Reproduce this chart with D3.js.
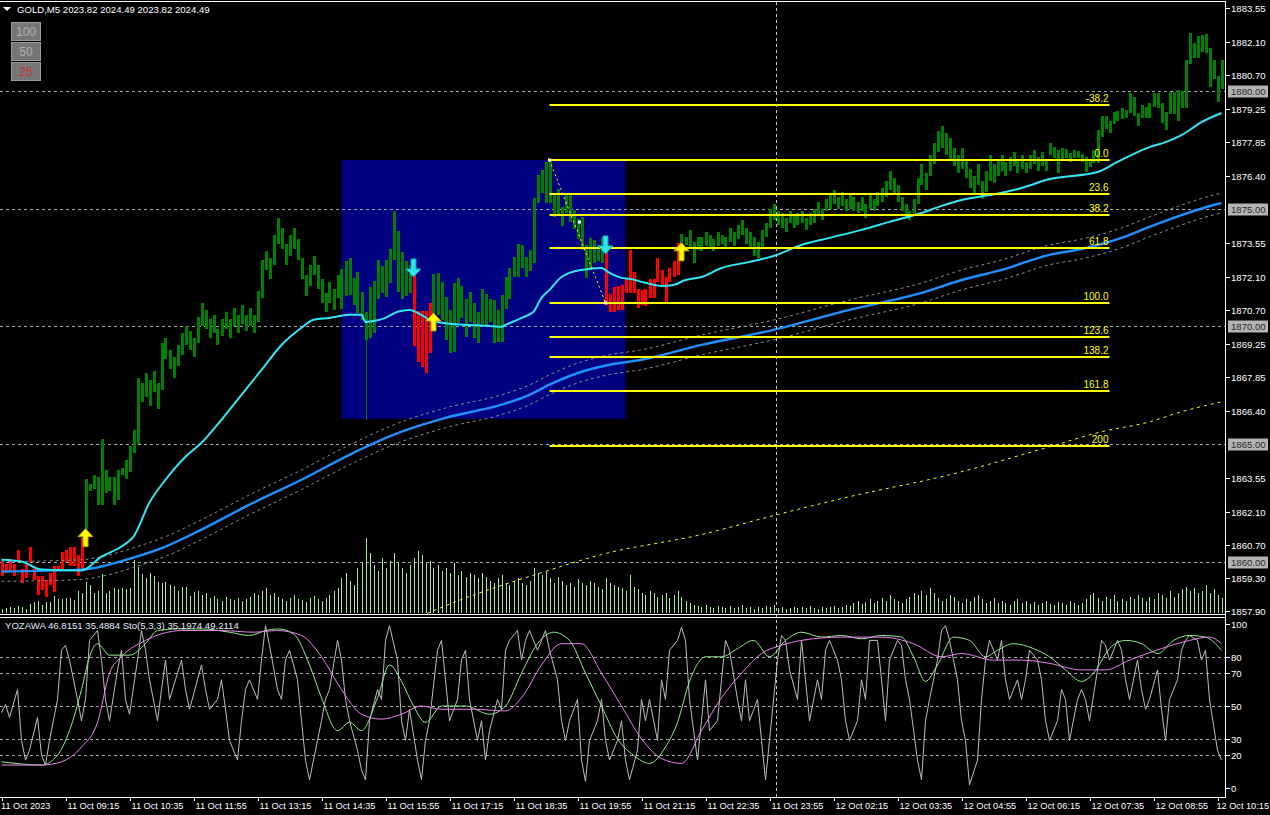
<!DOCTYPE html>
<html><head><meta charset="utf-8">
<script src="https://cdn.jsdelivr.net/npm/d3@7"></script>
<style>html,body{margin:0;padding:0;background:#000;overflow:hidden}svg{display:block}</style>
</head><body>
<svg id="c" width="1270" height="815"></svg>
<script>
// ---------- DATA ----------
const bodyHi = [
1860.0,1859.9,1860.1,1859.9,1860.5,1859.7,1859.9,1860.6,1859.7,1859.4,
1859.4,1859.2,1859.5,1859.8,1859.8,1860.4,1860.5,1860.6,1860.6,1860.3,
1861.0,1863.5,1863.3,1863.7,1863.6,1865.2,1863.9,1863.6,1863.6,1863.9,
1864.0,1864.3,1864.9,1865.6,1867.8,1867.6,1868.0,1867.7,1868.1,1867.6,
1869.3,1869.5,1869.0,1868.7,1869.2,1869.7,1870.0,1869.8,1869.5,1870.4,
1871.0,1870.7,1870.3,1870.5,1869.9,1870.3,1870.6,1870.3,1870.8,1870.5,
1870.9,1870.5,1870.8,1870.5,1871.5,1872.8,1873.2,1872.9,1873.9,1874.6,
1874.2,1873.5,1873.9,1874.2,1873.7,1872.9,1872.2,1872.6,1873.0,1872.6,
1872.0,1871.4,1871.9,1871.6,1872.2,
1872.44,1872.78,1872.91,1872.06,1872.31,1871.46,1870.62,1871.68,1871.93,1872.82,
1872.57,1872.82,1873.29,1874.90,1874.06,1873.16,1872.78,1872.60,1872.23,1870.66,
1870.66,1870.66,1871.00,1872.23,1872.27,1871.89,1871.25,1870.70,1871.85,1872.06,
1871.72,1871.17,1871.46,1871.00,1870.62,1871.59,1871.38,1871.17,1871.13,1870.70,
1871.34,1872.10,1872.48,1872.95,1873.50,1873.46,1872.95,1873.25,1875.46,1876.43,
1876.65,1876.99,1877.07,1875.67,1875.84,1875.07,1875.58,1875.67,1874.95,1874.56,
1874.65,1873.46,1873.76,1873.67,1873.46,1873.76,1873.25,1871.38,1871.68,1871.72,
1871.76,1872.02,1873.25,1872.31,1871.59,1871.55,1871.59,1872.02,1872.02,1872.91,
1872.40,1872.10,1872.48,1872.78,1873.55,1873.93,1873.80,1874.10,1873.59,1873.80,
1873.8,1874.0,1873.9,1873.7,1874.0,1873.9,1873.8,1874.2,1874.0,1874.3,
1874.5,1874.2,1874.0,1873.8,1873.6,1874.1,1874.4,1875.0,1875.2,1874.9,
1874.8,1874.6,1874.9,1874.7,1874.8,1874.9,1874.6,1874.8,1875.0,1875.3,
1875.0,1875.4,1875.6,1875.8,1875.5,1875.7,1875.4,1875.6,1875.5,1875.3,
1875.5,1875.2,1875.6,1875.4,1875.7,1875.9,1876.2,1876.6,1876.3,1876.0,
1875.5,1875.2,1874.9,1875.4,1876.3,1876.9,1876.5,1877.3,1877.8,1878.3,
1878.5,1878.2,1878.0,1877.6,1877.3,1877.6,1877.1,1876.7,1876.4,1876.9,
1876.2,1876.6,1877.3,1876.9,1877.1,1877.3,1877.0,1877.2,1877.4,1877.1,
1877.3,1877.0,1877.3,1877.5,1877.2,1877.4,1877.1,
1877.79,1877.62,1877.49,1877.58,1877.54,1877.37,1877.49,1877.45,1877.32,1877.20,1877.07,1877.49,
1878.34,1878.94,1878.94,1878.73,1879.11,1879.15,1879.28,1879.19,1879.92,1879.75,
1879.07,1879.41,1879.32,1879.49,1879.92,1879.92,1879.49,1879.11,1879.96,1879.96,
1880.04,1880.00,1881.32,1882.46,1882.04,1882.34,1882.38,1882.42,1881.83,1881.32,1880.64,1881.32
];
const bodyLo = [
1859.4,1859.5,1859.6,1859.4,1860.0,1859.1,1859.3,1860.0,1859.2,1858.6,
1858.8,1858.5,1859.0,1858.7,1859.6,1859.7,1860.0,1859.8,1859.8,1859.4,
1859.7,1861.4,1863.0,1863.1,1862.4,1862.4,1862.9,1863.0,1862.4,1862.6,
1863.7,1863.5,1863.8,1864.6,1865.0,1866.8,1867.0,1866.6,1867.2,1866.5,
1867.3,1868.6,1868.2,1867.8,1868.3,1868.8,1869.2,1869.0,1868.7,1869.3,
1870.0,1869.9,1869.5,1869.7,1869.2,1869.6,1869.9,1869.5,1870.0,1869.7,
1870.1,1869.8,1870.0,1869.7,1870.2,1871.2,1872.4,1872.0,1872.6,1873.5,
1873.3,1872.6,1873.0,1873.3,1872.8,1872.0,1871.3,1871.7,1872.2,1871.6,
1871.0,1870.6,1871.0,1870.7,1871.2,
1870.74,1871.30,1871.34,1870.91,1870.57,1870.28,1869.43,1869.51,1869.72,1871.17,
1871.42,1871.25,1871.85,1872.82,1871.46,1871.17,1871.30,1871.40,1869.17,1868.49,
1868.28,1868.03,1868.87,1870.28,1870.49,1870.28,1869.43,1868.87,1868.92,1870.15,
1870.36,1869.55,1870.19,1869.51,1869.30,1870.11,1870.06,1870.19,1869.30,1869.34,
1869.34,1870.74,1871.17,1872.10,1872.10,1872.48,1872.10,1872.36,1872.70,1875.24,
1875.67,1875.24,1875.24,1874.65,1874.73,1874.27,1874.82,1874.44,1874.14,1873.72,
1873.25,1872.06,1872.40,1872.70,1872.78,1872.70,1870.91,1870.62,1870.62,1870.70,
1870.70,1871.42,1871.42,1871.42,1870.79,1870.91,1870.87,1871.21,1871.21,1871.89,
1871.72,1871.00,1871.89,1872.10,1872.19,1873.25,1873.46,1873.38,1872.70,1873.25,
1873.2,1873.4,1873.3,1873.2,1873.4,1873.5,1873.3,1873.6,1873.4,1873.7,
1873.9,1873.5,1873.3,1873.0,1872.9,1873.3,1873.8,1874.2,1874.5,1874.3,
1874.2,1874.0,1874.4,1874.2,1874.3,1874.4,1874.1,1874.3,1874.4,1874.7,
1874.5,1874.9,1875.0,1875.2,1875.0,1875.1,1874.9,1875.0,1874.9,1874.8,
1874.9,1874.6,1875.0,1874.9,1875.1,1875.3,1875.5,1875.8,1875.6,1875.3,
1874.9,1874.6,1874.5,1874.7,1875.2,1876.0,1875.8,1876.4,1876.9,1877.4,
1877.6,1877.3,1877.1,1876.8,1876.5,1876.7,1876.3,1875.9,1875.6,1876.0,
1875.4,1875.7,1876.2,1876.1,1876.4,1876.6,1876.4,1876.6,1876.8,1876.5,
1876.7,1876.5,1876.7,1876.9,1876.6,1876.8,1876.6,
1877.28,1877.15,1876.52,1877.07,1877.15,1876.99,1877.15,1877.15,1876.99,1876.56,1876.77,1876.94,
1876.94,1878.05,1878.39,1878.22,1878.60,1878.73,1878.81,1878.85,1879.07,1878.94,
1878.51,1878.85,1878.85,1878.85,1879.32,1879.28,1878.64,1878.34,1879.02,1879.02,
1878.73,1879.28,1879.28,1881.15,1881.40,1881.40,1881.66,1881.61,1880.17,1880.51,1879.53,1880.08
];
const bearRanges = [[0,20],[103,107],[151,169]];
const extraWicks = [[91,1866.03]];
const volumes = [
4,5,6,5,7,6,4,9,11,12,8,11,11,17,14,14,15,15,13,22,20,31,28,20,22,39,20,22,25,24,25,24,25,53,46,39,35,40,37,31,30,31,28,27,22,26,26,17,21,22,
18,20,15,17,14,12,16,14,13,15,12,14,16,20,18,22,25,18,20,16,
14,12,15,18,14,13,11,15,17,14,12,15,18,22,25,35,40,32,28,45,
50,75,60,48,42,55,45,52,60,50,45,40,48,55,62,58,50,52,45,48,
42,45,40,50,38,42,36,40,38,35,40,36,32,30,35,38,30,28,32,35,
30,28,32,45,40,38,42,35,30,36,32,28,30,26,34,30,28,32,30,26,
24,35,30,28,26,25,22,38,26,24,20,18,22,20,16,18,20,15,18,22,
16,12,10,8,7,6,8,6,5,7,6,5,7,5,6,8,5,6,4,6,
5,7,6,8,5,6,4,5,6,5,6,5,7,5,4,6,5,6,7,5,
6,8,7,10,12,9,11,14,10,12,15,12,18,14,12,10,14,16,20,18,
22,18,25,20,15,12,14,18,16,12,10,14,12,16,18,14,10,12,15,10,
12,10,8,12,14,10,12,9,11,8,10,12,9,8,11,10,8,12,10,8,
10,14,18,20,15,12,16,14,18,12,14,12,16,14,18,15,12,16,14,20,
18,15,22,16,20,24,26,22,25,20,22,28,20,24,18,15
];
const fastMA = [[0,1860.08],[5,1860.0],[10,1859.66],[20,1859.62],[25,1860.21],[30,1860.64],[33,1861.06],[37,1862.51],[41,1863.48],[46,1864.46],[50,1865.05],[55,1866.03],[60,1867.09],[65,1868.15],[70,1869.21],[75,1869.94],[78,1870.28],[82,1870.36],[87,1870.49],[90,1870.49],[91,1870.19],[93,1870.23],[96,1870.36],[99,1870.62],[102,1870.70],[105,1870.49],[107,1870.28],[112,1870.11],[117,1870.06],[122,1870.02],[125,1869.98],[126,1870.06],[130,1870.36],[133,1870.62],[135,1871.21],[137,1871.55],[140,1872.10],[145,1872.40],[150,1872.48],[152,1872.27],[155,1872.06],[157,1872.02],[161,1871.85],[165,1871.72],[168,1871.76],[171,1871.97],[175,1872.10],[180,1872.48],[187,1872.74],[193,1872.99],[200,1873.46],[207,1873.76],[215,1874.10],[222,1874.44],[230,1874.82],[235,1875.12],[240,1875.37],[247,1875.58],[255,1875.88],[262,1876.26],[274,1876.56],[279,1876.99],[287,1877.62],[291,1877.83],[295,1878.13],[300,1878.68],[305,1879.07]];
const midMA = [[0,1859.58],[20,1859.66],[25,1859.79],[33,1860.17],[41,1860.64],[50,1861.36],[62,1862.42],[75,1863.48],[87,1864.54],[100,1865.52],[111,1866.11],[125,1866.67],[132,1867.09],[137,1867.52],[145,1868.07],[152,1868.37],[160,1868.58],[175,1869.21],[193,1869.85],[212,1870.70],[230,1871.42],[240,1871.97],[250,1872.40],[262,1873.04],[270,1873.29],[280,1873.76],[287,1874.23],[295,1874.73],[303,1875.16],[305,1875.24]];
const envelopePct = 0.0225;
const slowMA = [[100,1857.32],[115,1858.39],[135,1859.53],[150,1860.30],[175,1861.15],[194,1862.0],[212,1862.76],[237,1863.69],[262,1864.88],[275,1865.52],[287,1865.94],[295,1866.37],[305,1866.79]];
const upArrows = [[21,1861.40],[108,1870.57],[170,1873.55]];
const downArrows = [[103,1872.10],[151,1873.08]];
const fibStart = 137, fibEnd = 277, fibHigh = 1877.07, fibLow = 1871.0, fibLowBar = 151;
const fibLevels = [-38.2,0,23.6,38.2,61.8,100,123.6,138.2,161.8,200];
const fibLabels = ["-38.2","0.0","23.6","38.2","61.8","100.0","123.6","138.2","161.8","200"];
const boxStart = 85, boxEnd = 156, boxTop = 1877.07, boxBottom = 1866.07;
const separatorBar = 193.5;
const roundLevels = [1880.00,1875.00,1870.00,1865.00,1860.00];
const priceTicks = [1883.55,1882.10,1880.70,1879.25,1877.85,1876.40,1873.55,1872.10,1870.70,1869.25,1867.85,1866.40,1863.55,1862.10,1860.70,1859.30,1857.90];
const timeTickBars = [0,16,32,48,64,80,96,112,128,144,160,176,192,208,224,240,256,272,288,304];
const timeLabels = ["11 Oct 2023","11 Oct 09:15","11 Oct 10:35","11 Oct 11:55","11 Oct 13:15","11 Oct 14:35","11 Oct 15:55","11 Oct 17:15","11 Oct 18:35","11 Oct 19:55","11 Oct 21:15","11 Oct 22:35","11 Oct 23:55","12 Oct 02:15","12 Oct 03:35","12 Oct 04:55","12 Oct 06:15","12 Oct 07:35","12 Oct 08:55","12 Oct 10:15"];
const oscTicks = [100,80,70,50,30,20,0];
const oscLevels = [80,70,50,30,20];
const stoRaw = [[0,46],[1,51],[2,43],[4,60],[5,29],[6,17],[7,23],[9,43],[10,20],[11,14],[12,29],[14,54],[15,84],[16,87],[17,78],[19,54],[20,41],[21,54],[22,90],[24,96],[25,78],[26,54],[27,41],[29,72],[30,84],[31,54],[32,45],[34,78],[35,96],[36,84],[37,66],[39,41],[40,60],[41,78],[42,54],[45,78],[46,60],[47,48],[49,66],[50,75],[51,60],[52,48],[54,54],[55,66],[56,48],[57,29],[59,17],[60,41],[61,60],[62,66],[64,54],[65,78],[66,99],[67,87],[69,60],[70,54],[71,78],[72,84],[74,66],[75,41],[76,17],[77,5],[79,29],[80,41],[81,54],[82,60],[84,90],[85,78],[86,54],[87,41],[89,23],[90,11],[91,5],[92,41],[94,60],[95,54],[96,90],[97,99],[99,78],[100,41],[101,29],[102,48],[104,17],[105,5],[106,29],[107,41],[109,84],[110,90],[111,66],[112,41],[114,54],[115,78],[116,84],[117,54],[119,29],[120,41],[121,17],[122,35],[124,54],[125,48],[126,84],[127,90],[129,96],[130,78],[131,90],[132,96],[134,84],[135,90],[136,96],[137,84],[139,66],[140,41],[141,29],[142,41],[144,54],[145,17],[146,4],[147,29],[149,41],[150,54],[151,29],[152,17],[154,29],[155,41],[156,17],[157,5],[159,23],[160,54],[161,41],[162,54],[164,29],[165,66],[166,54],[167,84],[169,90],[170,98],[171,90],[172,54],[174,17],[175,41],[176,66],[177,35],[179,41],[180,66],[181,90],[182,84],[184,54],[185,41],[186,66],[187,41],[189,54],[190,29],[191,5],[192,29],[194,78],[195,93],[196,90],[197,72],[199,54],[200,90],[201,66],[202,41],[204,66],[205,54],[206,84],[207,90],[209,78],[210,66],[211,41],[212,29],[214,41],[215,66],[216,54],[217,90],[219,90],[220,66],[221,41],[222,78],[224,90],[225,87],[226,66],[227,54],[229,17],[230,5],[231,41],[232,54],[234,78],[235,96],[236,99],[237,90],[239,66],[240,41],[241,29],[242,2],[244,17],[245,54],[246,78],[247,90],[249,78],[250,90],[251,66],[252,54],[254,66],[255,54],[256,66],[257,84],[259,78],[260,66],[261,41],[262,29],[264,41],[265,60],[266,54],[267,29],[269,54],[270,60],[271,54],[272,41],[274,72],[275,90],[276,87],[277,78],[279,90],[280,84],[281,66],[282,54],[284,78],[285,60],[286,48],[287,54],[289,72],[290,48],[291,29],[292,54],[294,66],[295,84],[296,90],[297,93],[299,90],[300,78],[301,84],[302,54],[304,23],[305,17]];
const stoMain = [[0,16],[10,14],[14,20],[17,35],[20,60],[22,80],[24,88],[27,81],[32,81],[36,88],[39,96],[44,97],[50,97],[57,95],[62,93],[66,96],[69,97],[73,94],[77,75],[80,55],[84,35],[87,40],[90,35],[94,55],[97,75],[100,65],[103,50],[106,40],[110,50],[116,50],[122,45],[126,50],[130,70],[134,88],[138,95],[142,90],[146,70],[150,50],[154,30],[158,20],[162,15],[166,25],[169,40],[172,65],[176,80],[180,80],[184,85],[188,90],[192,80],[196,90],[200,95],[205,92],[210,93],[215,91],[220,93],[225,92],[228,80],[231,65],[234,75],[238,92],[242,90],[246,80],[249,84],[253,88],[258,85],[262,80],[266,72],[270,65],[273,70],[277,85],[281,90],[285,88],[289,82],[293,90],[297,93],[301,92],[305,84]];
const stoSignal = [[0,14],[10,14],[15,16],[20,25],[24,40],[27,70],[30,80],[36,90],[40,94],[45,96],[55,96],[63,95],[69,96],[75,93],[80,80],[85,60],[90,45],[95,42],[100,45],[105,50],[110,48],[118,48],[126,47],[130,55],[135,75],[140,88],[145,88],[150,70],[155,50],[160,30],[165,18],[170,15],[175,35],[180,55],[185,70],[190,82],[195,87],[200,90],[210,92],[220,92],[228,88],[235,80],[240,82],[248,78],[255,78],[262,76],[270,72],[276,72],[282,78],[290,85],[297,90],[302,92],[305,88]];
const headerText = "GOLD,M5  2023.82 2024.49 2023.82 2024.49";
const oscHeader = "YOZAWA 46.8151 35.4884  Sto(5,3,3) 35.1974 49.2114";
const buttonLabels = ["100","50","25"];

// ---------- DRAW ----------
const svg = d3.select('#c');
const FONT = "'Liberation Sans', Arial, sans-serif";
const FS = '9.6px';
const x = d3.scaleLinear().domain([0,305]).range([1.5,1221.5]);
const y = d3.scaleLinear().domain([1857.90,1883.55]).range([611,7.6]);
const yv = d3.scaleLinear().domain([0,100]).range([613,513]);
const yo = d3.scaleLinear().domain([0,100]).range([788,624]);
const AX = 1225.5;

svg.append('rect').attr('width',1270).attr('height',815).attr('fill','#000');
const defs = svg.append('defs');
defs.append('clipPath').attr('id','mainClip').append('rect').attr('x',0).attr('y',2).attr('width',1225).attr('height',612);
defs.append('clipPath').attr('id','oscClip').append('rect').attr('x',0).attr('y',618).attr('width',1225).attr('height',179);

const main = svg.append('g').attr('clip-path','url(#mainClip)');
const osc = svg.append('g').attr('clip-path','url(#oscClip)');

main.append('rect').attr('x',x(boxStart)).attr('y',y(boxTop)).attr('width',x(boxEnd)-x(boxStart)).attr('height',y(boxBottom)-y(boxTop)).attr('fill','#000080');

main.selectAll('line.lvl').data(roundLevels).enter().append('line')
  .attr('x1',0).attr('x2',1225).attr('y1',d=>Math.round(y(d))+0.5).attr('y2',d=>Math.round(y(d))+0.5)
  .attr('stroke','#a8a8a8').attr('stroke-dasharray','3,3').attr('stroke-width',1);

main.selectAll('line.vol').data(volumes).enter().append('line')
  .attr('x1',(d,i)=>Math.round(x(i))+0.5).attr('x2',(d,i)=>Math.round(x(i))+0.5)
  .attr('y1',yv(0)).attr('y2',d=>yv(d)).attr('stroke','#a6e8a0').attr('stroke-width',1);

const isBear = i => bearRanges.some(r=>i>=r[0]&&i<=r[1]);
extraWicks.forEach(w=>{
  const i=w[0];
  main.append('line').attr('x1',Math.round(x(i))+0.5).attr('x2',Math.round(x(i))+0.5)
   .attr('y1',y(bodyLo[i])).attr('y2',y(w[1])).attr('stroke',isBear(i)?'#ff0000':'#008000').attr('stroke-width',1);
});
main.selectAll('rect.c').data(bodyHi).enter().append('rect')
  .attr('x',(d,i)=>Math.round(x(i))-1).attr('width',3)
  .attr('y',(d,i)=>y(d)).attr('height',(d,i)=>Math.max(1,y(bodyLo[i])-y(d)))
  .attr('fill',(d,i)=>isBear(i)?'#ff0000':'#008000').attr('shape-rendering','crispEdges');

const ln = d3.line().x(d=>x(d[0])).y(d=>y(d[1])).curve(d3.curveMonotoneX);
main.append('path').attr('d',ln(slowMA)).attr('fill','none').attr('stroke','#ffff00').attr('stroke-width',1).attr('stroke-dasharray','3,4');
[1,-1].forEach(s=>{
  main.append('path').attr('d',ln(midMA.map(d=>[d[0],d[1]*(1+s*envelopePct/100)]))).attr('fill','none')
   .attr('stroke','#8a8a8a').attr('stroke-width',1).attr('stroke-dasharray','3,3');
});
main.append('path').attr('d',ln(midMA)).attr('fill','none').attr('stroke','#1e90ff').attr('stroke-width',2.4);
main.append('path').attr('d',ln(fastMA)).attr('fill','none').attr('stroke','#33e6f5').attr('stroke-width',2);

const fibPrice = l => fibHigh - (fibHigh-fibLow)*l/100;
fibLevels.forEach((l,k)=>{
  const yy = Math.round(y(fibPrice(l)));
  main.append('line').attr('x1',x(fibStart)).attr('x2',x(fibEnd)).attr('y1',yy).attr('y2',yy)
    .attr('stroke','#ffff00').attr('stroke-width',2);
  main.append('text').attr('x',x(fibEnd)-1).attr('y',yy-3).attr('text-anchor','end')
    .attr('fill','#ffff00').attr('font-family',FONT).attr('font-size','10px').text(fibLabels[k]);
});
main.append('line').attr('x1',x(fibStart)).attr('y1',y(fibHigh)).attr('x2',x(fibLowBar)).attr('y2',y(fibLow))
  .attr('stroke','#ffff00').attr('stroke-dasharray','2,3').attr('stroke-width',1);
[[fibStart,fibHigh],[fibLowBar,fibLow],[(fibStart+fibLowBar)/2+0.5,(fibHigh+fibLow)/2+0.4]].forEach(p=>{
  main.append('rect').attr('x',x(p[0])-1.5).attr('y',y(p[1])-1.5).attr('width',3).attr('height',3).attr('fill','#ffffff');
});

const upPath = "M0,0 L7.5,8 L2.5,8 L2.5,18 L-2.5,18 L-2.5,8 L-7.5,8 Z";
const downPath = "M0,0 L7.5,-8 L2.5,-8 L2.5,-18 L-2.5,-18 L-2.5,-8 L-7.5,-8 Z";
upArrows.forEach(a=>{
  main.append('path').attr('d',upPath).attr('transform',`translate(${x(a[0])},${y(a[1])})`)
   .attr('fill','#ffff00').attr('stroke','#d4a000').attr('stroke-width',1);
});
downArrows.forEach(a=>{
  main.append('path').attr('d',downPath).attr('transform',`translate(${x(a[0])},${y(a[1])})`)
   .attr('fill','#2ee6f0').attr('stroke','#0aa8b8').attr('stroke-width',1);
});

svg.append('line').attr('x1',Math.round(x(separatorBar))+0.5).attr('x2',Math.round(x(separatorBar))+0.5)
  .attr('y1',2).attr('y2',797).attr('stroke','#c8c8c8').attr('stroke-dasharray','3,3');

osc.selectAll('line.ol').data(oscLevels).enter().append('line')
  .attr('x1',0).attr('x2',1225).attr('y1',d=>Math.round(yo(d))+0.5).attr('y2',d=>Math.round(yo(d))+0.5)
  .attr('stroke','#a8a8a8').attr('stroke-dasharray','3,3');
const lo = d3.line().x(d=>x(d[0])).y(d=>yo(d[1]));
const loS = d3.line().x(d=>x(d[0])).y(d=>yo(d[1])).curve(d3.curveMonotoneX);
osc.append('path').attr('d',lo(stoRaw)).attr('fill','none').attr('stroke','#bdbdbd').attr('stroke-width',1);
osc.append('path').attr('d',loS(stoMain)).attr('fill','none').attr('stroke','#90ee90').attr('stroke-width',1);
osc.append('path').attr('d',loS(stoSignal)).attr('fill','none').attr('stroke','#ee82ee').attr('stroke-width',1);

const fr = svg.append('g').attr('stroke','#ffffff').attr('stroke-width',1).attr('shape-rendering','crispEdges');
fr.append('line').attr('x1',0).attr('x2',AX).attr('y1',1.5).attr('y2',1.5);
fr.append('line').attr('x1',AX).attr('x2',AX).attr('y1',1).attr('y2',797.5);
fr.append('line').attr('x1',0).attr('x2',AX).attr('y1',614.5).attr('y2',614.5);
fr.append('line').attr('x1',0).attr('x2',AX).attr('y1',617.5).attr('y2',617.5);
fr.append('line').attr('x1',0).attr('x2',AX).attr('y1',797.5).attr('y2',797.5);

priceTicks.forEach(p=>{
  const yy = Math.round(y(p))+0.5;
  fr.append('line').attr('x1',AX).attr('x2',AX+4).attr('y1',yy).attr('y2',yy);
  svg.append('text').attr('x',1231).attr('y',yy).attr('dy','0.35em').attr('fill','#ffffff')
   .attr('font-family',FONT).attr('font-size',FS).text(d3.format('.2f')(p));
});
roundLevels.forEach(p=>{
  const yy = Math.round(y(p))+0.5;
  svg.append('rect').attr('x',1228).attr('y',yy-6).attr('width',40).attr('height',12).attr('fill','#b4b4b4');
  svg.append('text').attr('x',1231).attr('y',yy).attr('dy','0.35em').attr('fill','#2a2a2a')
   .attr('font-family',FONT).attr('font-size',FS).text(d3.format('.2f')(p));
});
oscTicks.forEach(v=>{
  const yy = Math.round(yo(v))+0.5;
  fr.append('line').attr('x1',AX).attr('x2',AX+4).attr('y1',yy).attr('y2',yy);
  svg.append('text').attr('x',1231).attr('y',yy).attr('dy','0.35em').attr('fill','#ffffff')
   .attr('font-family',FONT).attr('font-size',FS).text(v);
});
timeTickBars.forEach((b,k)=>{
  const xx = Math.round(x(b))+0.5;
  fr.append('line').attr('x1',xx).attr('x2',xx).attr('y1',797).attr('y2',801);
  const last = k===timeTickBars.length-1;
  svg.append('text').attr('x',k===0?1:(last?1269:xx+1)).attr('y',809).attr('fill','#ffffff')
   .attr('text-anchor',last?'end':'start')
   .attr('font-family',FONT).attr('font-size','9.2px').text(timeLabels[k]);
});

svg.append('path').attr('d','M3,7 L11,7 L7,11 Z').attr('fill','#ffffff');
svg.append('text').attr('x',17).attr('y',13).attr('fill','#ffffff').attr('font-family',FONT).attr('font-size',FS).text(headerText);
svg.append('text').attr('x',5).attr('y',629).attr('fill','#e6ecff').attr('font-family',FONT).attr('font-size',FS).text(oscHeader);

buttonLabels.forEach((t,k)=>{
  const by = 22 + k*20;
  svg.append('rect').attr('x',11.5).attr('y',by+0.5).attr('width',29).attr('height',18).attr('fill','#767676')
    .attr('stroke','#9a9a9a').attr('stroke-width',1);
  svg.append('text').attr('x',26).attr('y',by+14).attr('text-anchor','middle').attr('font-family',FONT)
    .attr('font-size','12px').attr('fill',k===2?'#d03030':'#b0b0b0').text(t);
});
</script>
</body></html>
